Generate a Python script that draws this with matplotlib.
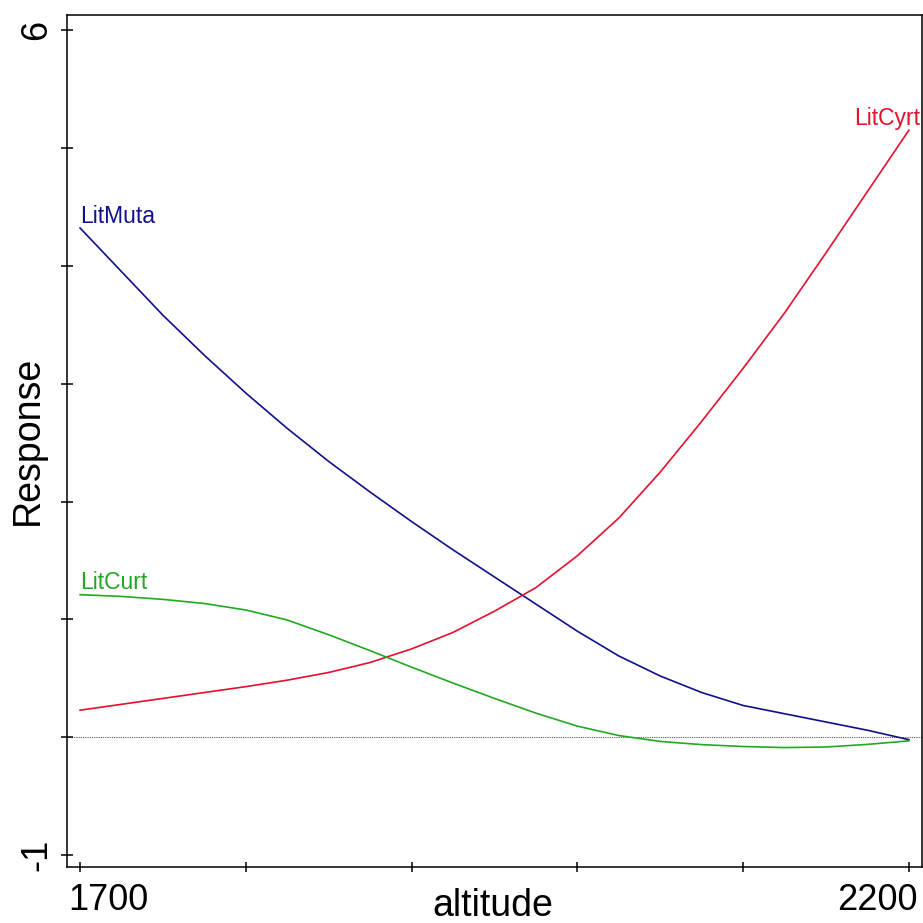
import matplotlib
matplotlib.use("Agg")
import matplotlib.pyplot as plt
from matplotlib import font_manager
from matplotlib.transforms import ScaledTranslation

# altitude grid and species response curves
altitude = [1700, 1725, 1750, 1775, 1800, 1825, 1850, 1875, 1900, 1925, 1950,
            1975, 2000, 2025, 2050, 2075, 2100, 2125, 2150, 2175, 2200]
lit_muta = [4.32, 3.95, 3.58, 3.24, 2.92, 2.62, 2.34, 2.08, 1.83, 1.59, 1.36,
            1.13, 0.90, 0.69, 0.52, 0.38, 0.27, 0.20, 0.13, 0.06, -0.02]
lit_cyrt = [0.23, 0.28, 0.33, 0.38, 0.43, 0.485, 0.55, 0.635, 0.75, 0.89, 1.07,
            1.27, 1.54, 1.86, 2.25, 2.68, 3.13, 3.60, 4.11, 4.63, 5.15]
lit_curt = [1.21, 1.195, 1.17, 1.135, 1.08, 0.995, 0.87, 0.735, 0.595, 0.46, 0.33,
            0.205, 0.095, 0.015, -0.035, -0.062, -0.078, -0.087, -0.082, -0.06, -0.03]

NAVY = "#10108a"
RED = "#e3102e"
GREEN = "#22a822"

names = {f.name for f in font_manager.fontManager.ttflist}
base_font = "Liberation Sans" if "Liberation Sans" in names else "DejaVu Sans"
plt.rcParams["font.family"] = base_font

fig = plt.figure(figsize=(9.23, 9.23), dpi=100)
ax = fig.add_axes([67 / 923, 1 - 867 / 923, (922 - 67) / 923, (867 - 15) / 923])

# zero reference line
ax.axhline(0, color="#555555", lw=0.8, ls=(0, (1, 1)), zorder=1)

ax.plot(altitude, lit_muta, color=NAVY, lw=1.2, zorder=3)
ax.plot(altitude, lit_cyrt, color=RED, lw=1.2, zorder=3)
ax.plot(altitude, lit_curt, color=GREEN, lw=1.2, zorder=3)

# curve labels at the curve ends
ax.text(altitude[0], lit_muta[0] + 0.045, "LitMuta", color=NAVY,
        fontsize=16.5, ha="left", va="baseline")
ax.text(altitude[0], lit_curt[0] + 0.045, "LitCurt", color=GREEN,
        fontsize=16.5, ha="left", va="baseline")
ax.text(altitude[-1] + 7, lit_cyrt[-1] + 0.045, "LitCyrt", color=RED,
        fontsize=16.5, ha="right", va="baseline")

ax.set_xlim(1692.1, 2207.9)
ax.set_ylim(-1.10, 6.127)

ax.set_xticks([1700, 1800, 1900, 2000, 2100, 2200])
ax.set_xticklabels(["1700", "", "", "", "", "2200"], fontsize=26)
ax.set_yticks(range(-1, 7))
ax.set_yticklabels(["-1", "", "", "", "", "", "", "6"], fontsize=26,
                   rotation=90, va="center")

ax.tick_params(axis="x", direction="inout", length=7, width=1.1, pad=8)
ax.tick_params(axis="y", direction="inout", length=9, width=1.1, pad=4.5)
for sp in ax.spines.values():
    sp.set_linewidth(1.1)

# end labels pushed inward so they stay inside the figure
xl = ax.get_xticklabels()
xl[0].set_ha("left")
xl[0].set_transform(xl[0].get_transform() + ScaledTranslation(-0.12, 0, fig.dpi_scale_trans))
xl[-1].set_ha("right")
xl[-1].set_transform(xl[-1].get_transform() + ScaledTranslation(0.09, 0, fig.dpi_scale_trans))

# axis titles placed like the original
fig.text(493 / 923, 1 - 916 / 923, "altitude", fontsize=27,
         ha="center", va="baseline")
fig.text(28 / 923, 1 - 440 / 923, "Response", fontsize=27,
         rotation=90, ha="center", va="center")

fig.savefig("out.png", dpi=100)
